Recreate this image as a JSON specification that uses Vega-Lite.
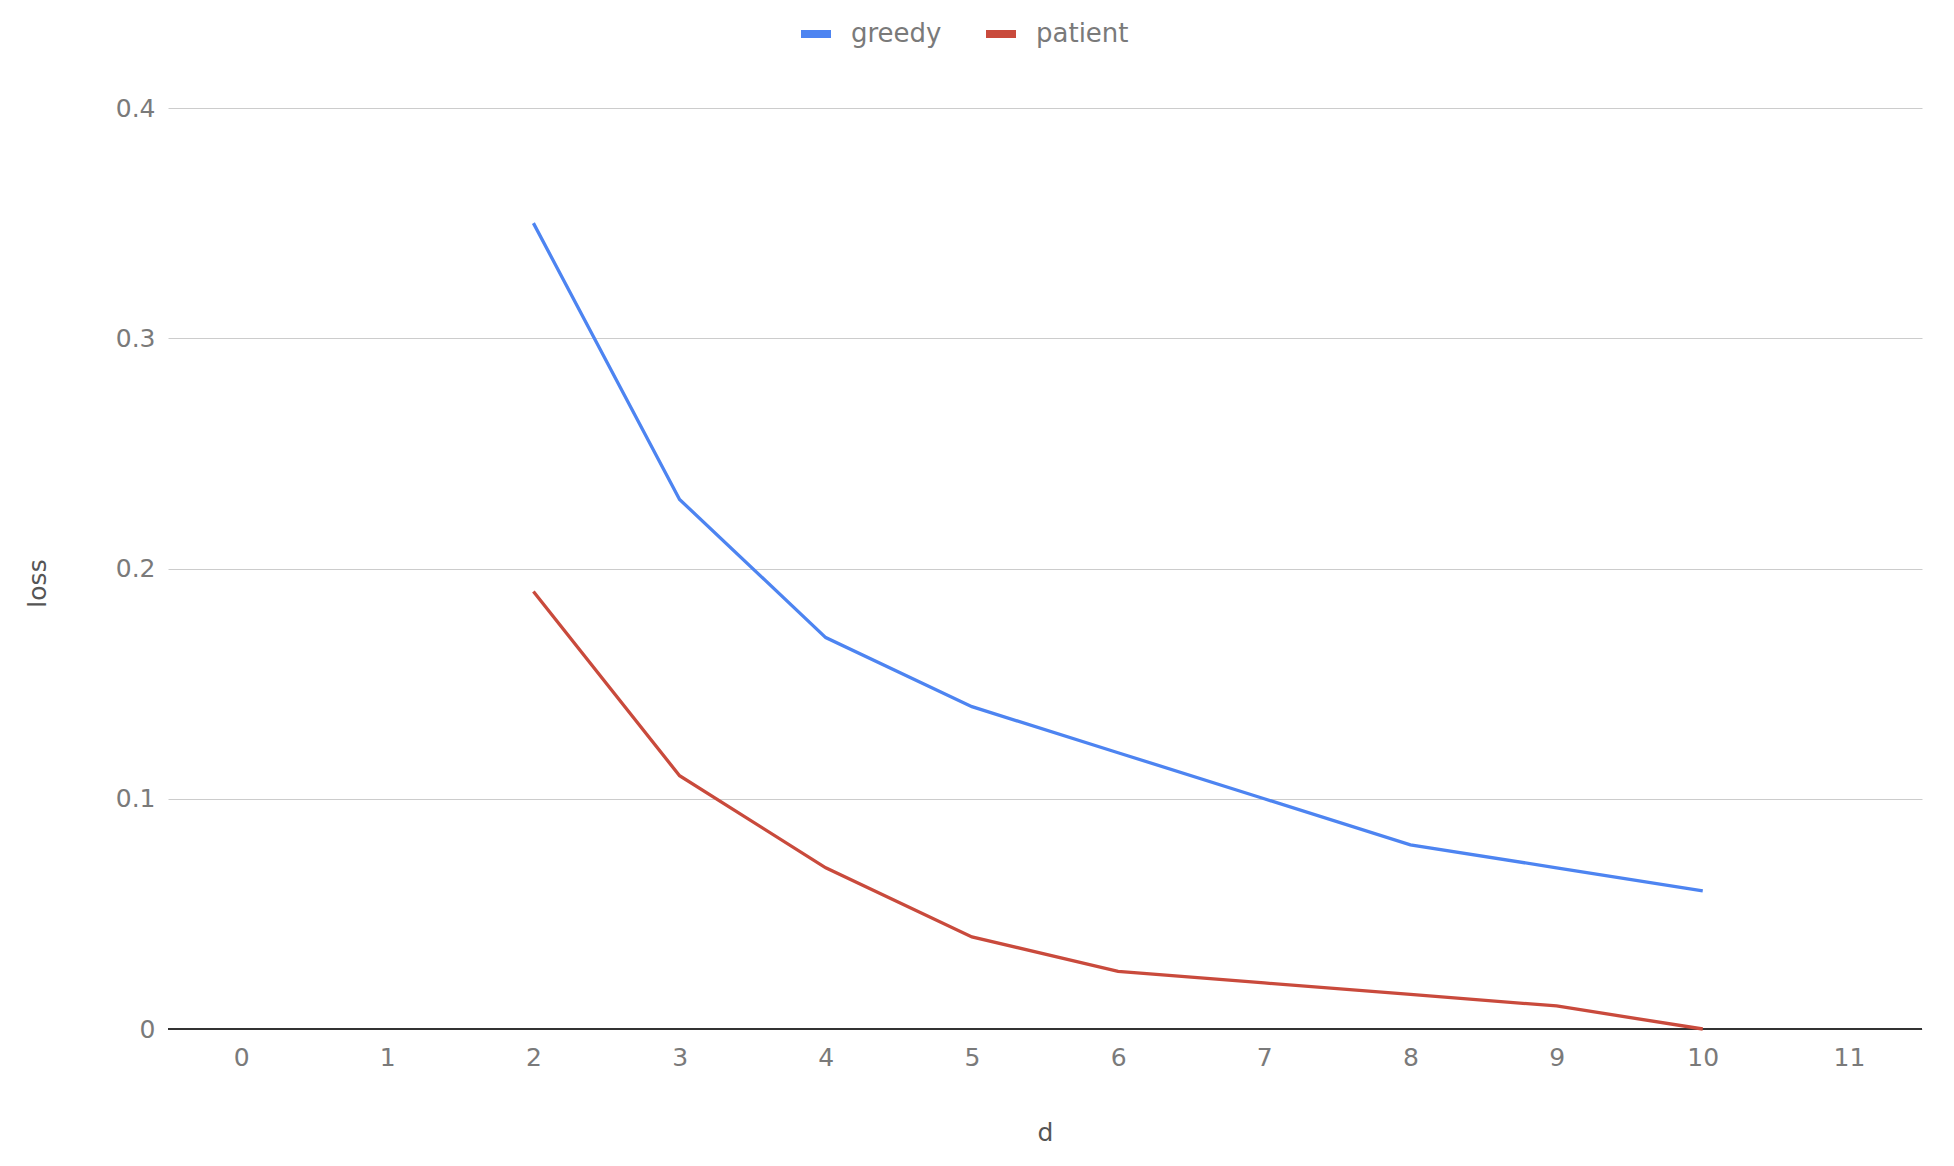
{
  "$schema": "https://vega.github.io/schema/vega-lite/v6.json",
  "autosize": "none",
  "width": 1754,
  "height": 921,
  "padding": {"left": 168, "top": 108, "right": 32, "bottom": 137},
  "background": "white",
  "config": {
    "view": {"stroke": null},
    "font": "DejaVu Sans",
    "axis": {"labelFont": "DejaVu Sans", "titleFont": "DejaVu Sans", "labelColor": "#7a7a7a", "titleColor": "#555555", "titleFontWeight": "normal"},
    "legend": {"labelFont": "DejaVu Sans"}
  },
  "data": {
    "values": [
      {"d": 2, "series": "greedy", "loss": 0.35},
      {"d": 3, "series": "greedy", "loss": 0.23},
      {"d": 4, "series": "greedy", "loss": 0.17},
      {"d": 5, "series": "greedy", "loss": 0.14},
      {"d": 6, "series": "greedy", "loss": 0.12},
      {"d": 7, "series": "greedy", "loss": 0.10},
      {"d": 8, "series": "greedy", "loss": 0.08},
      {"d": 9, "series": "greedy", "loss": 0.07},
      {"d": 10, "series": "greedy", "loss": 0.06},
      {"d": 2, "series": "patient", "loss": 0.19},
      {"d": 3, "series": "patient", "loss": 0.11},
      {"d": 4, "series": "patient", "loss": 0.07},
      {"d": 5, "series": "patient", "loss": 0.04},
      {"d": 6, "series": "patient", "loss": 0.025},
      {"d": 7, "series": "patient", "loss": 0.02},
      {"d": 8, "series": "patient", "loss": 0.015},
      {"d": 9, "series": "patient", "loss": 0.01},
      {"d": 10, "series": "patient", "loss": 0.0}
    ]
  },
  "layer": [
    {
      "mark": {"type": "rule", "color": "#333333", "strokeWidth": 2},
      "encoding": {"y": {"datum": 0, "type": "quantitative"}}
    },
    {
      "mark": {"type": "line", "strokeWidth": 3.3},
      "encoding": {
        "x": {
          "field": "d", "type": "quantitative",
          "scale": {"domain": [-0.5, 11.5], "nice": false, "zero": false},
          "axis": {
            "values": [0, 1, 2, 3, 4, 5, 6, 7, 8, 9, 10, 11],
            "grid": false, "domain": false, "ticks": false,
            "labelFontSize": 25, "labelPadding": 16,
            "title": "d", "titleFontSize": 25,
            "titleX": 877, "titleY": 103, "titleBaseline": "middle", "titleAlign": "center", "titleAnchor": null
          }
        },
        "y": {
          "field": "loss", "type": "quantitative",
          "scale": {"domain": [0, 0.4], "nice": false},
          "axis": {
            "values": [0, 0.1, 0.2, 0.3, 0.4],
            "format": "~g",
            "grid": true, "gridColor": "#cccccc", "gridWidth": 1,
            "domain": false, "ticks": false,
            "labelFontSize": 25, "labelPadding": 13,
            "title": "loss", "titleFontSize": 25, "titleAngle": -90,
            "titleX": -131, "titleY": 475, "titleBaseline": "middle", "titleAlign": "center"
          }
        },
        "color": {
          "field": "series", "type": "nominal",
          "scale": {"domain": ["greedy", "patient"], "range": ["#4d84f1", "#c94a3c"]},
          "legend": {
            "title": null, "orient": "none", "direction": "horizontal",
            "legendX": 629, "legendY": -93,
            "symbolType": "stroke", "symbolStrokeWidth": 8, "symbolSize": 900,
            "labelFontSize": 26, "labelColor": "#7a7a7a", "labelOffset": 16,
            "columnPadding": 28
          }
        }
      }
    }
  ]
}
